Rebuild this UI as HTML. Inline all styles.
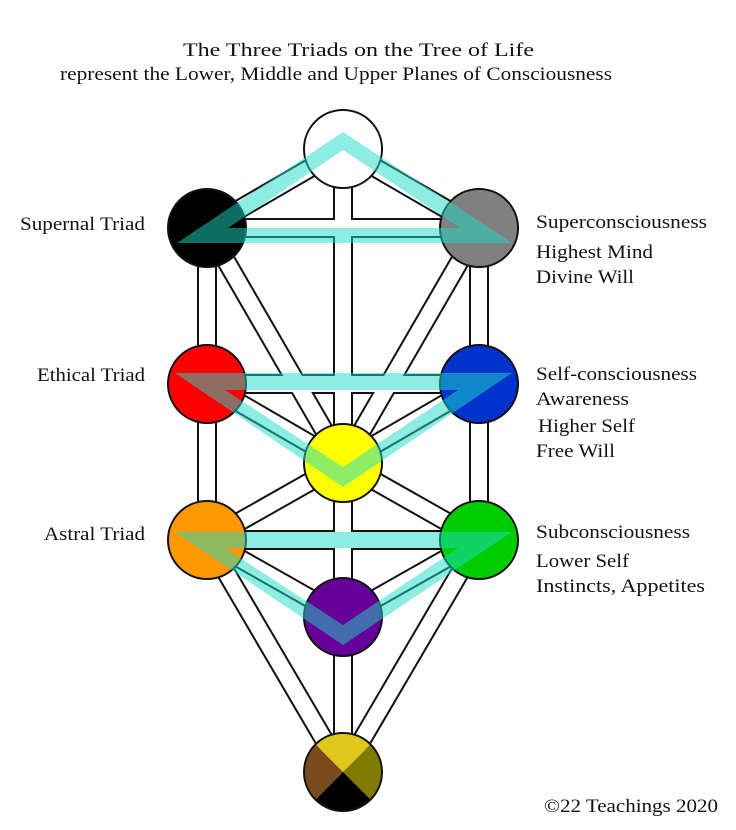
<!DOCTYPE html>
<html><head><meta charset="utf-8"><style>
html,body{margin:0;padding:0;background:#fff;}
svg{display:block;}
text{font-family:"Liberation Serif",serif;fill:#111;}
</style></head><body>
<svg width="736" height="830" viewBox="0 0 736 830" xmlns="http://www.w3.org/2000/svg">
<text x="183" y="56" font-size="19" textLength="351" lengthAdjust="spacingAndGlyphs">The Three Triads on the Tree of Life</text>
<text x="60" y="80" font-size="19" textLength="552" lengthAdjust="spacingAndGlyphs">represent the Lower, Middle and Upper Planes of Consciousness</text>

<g stroke-linecap="butt">
<g stroke="#111" stroke-width="20">
<line x1="343" y1="149" x2="479" y2="228"/><line x1="343" y1="149" x2="207" y2="228"/>
<line x1="343" y1="149" x2="343" y2="772"/><line x1="207" y1="228" x2="479" y2="228"/>
<line x1="479" y1="228" x2="479" y2="540"/><line x1="207" y1="228" x2="207" y2="540"/>
<line x1="479" y1="228" x2="343" y2="463"/><line x1="207" y1="228" x2="343" y2="463"/>
<line x1="207" y1="384" x2="479" y2="384"/><line x1="207" y1="384" x2="343" y2="463"/>
<line x1="479" y1="384" x2="343" y2="463"/><line x1="207" y1="540" x2="343" y2="463"/>
<line x1="479" y1="540" x2="343" y2="463"/><line x1="207" y1="540" x2="479" y2="540"/>
<line x1="207" y1="540" x2="343" y2="617"/><line x1="479" y1="540" x2="343" y2="617"/>
<line x1="207" y1="540" x2="343" y2="772"/><line x1="479" y1="540" x2="343" y2="772"/>
</g>
<g stroke="#fff" stroke-width="16">
<line x1="343" y1="149" x2="479" y2="228"/><line x1="343" y1="149" x2="207" y2="228"/>
<line x1="343" y1="149" x2="343" y2="772"/><line x1="207" y1="228" x2="479" y2="228"/>
<line x1="479" y1="228" x2="479" y2="540"/><line x1="207" y1="228" x2="207" y2="540"/>
<line x1="479" y1="228" x2="343" y2="463"/><line x1="207" y1="228" x2="343" y2="463"/>
<line x1="207" y1="384" x2="479" y2="384"/><line x1="207" y1="384" x2="343" y2="463"/>
<line x1="479" y1="384" x2="343" y2="463"/><line x1="207" y1="540" x2="343" y2="463"/>
<line x1="479" y1="540" x2="343" y2="463"/><line x1="207" y1="540" x2="479" y2="540"/>
<line x1="207" y1="540" x2="343" y2="617"/><line x1="479" y1="540" x2="343" y2="617"/>
<line x1="207" y1="540" x2="343" y2="772"/><line x1="479" y1="540" x2="343" y2="772"/>
</g>
</g>

<g stroke="#111" stroke-width="2">
<circle cx="343" cy="149" r="39" fill="#fff"/>
<circle cx="207" cy="228" r="39" fill="#000"/>
<circle cx="479" cy="228" r="39" fill="#808080"/>
<circle cx="207" cy="384" r="39" fill="#ff0000"/>
<circle cx="479" cy="384" r="39" fill="#0033cc"/>
<circle cx="343" cy="463" r="39" fill="#ffff00"/>
<circle cx="207" cy="540" r="39" fill="#ff9900"/>
<circle cx="479" cy="540" r="39" fill="#00cc00"/>
<circle cx="343" cy="617" r="39" fill="#660099"/>
</g>
<g>
<clipPath id="mc"><circle cx="343" cy="772" r="39"/></clipPath>
<g clip-path="url(#mc)">
<polygon points="343,772 300,729 386,729" fill="#e0c81a"/>
<polygon points="343,772 386,729 386,815" fill="#807a00"/>
<polygon points="343,772 386,815 300,815" fill="#000"/>
<polygon points="343,772 300,815 300,729" fill="#7a4a1e"/>
</g>
<circle cx="343" cy="772" r="39" fill="none" stroke="#111" stroke-width="2"/>
</g>

<g fill="rgba(30,220,200,0.5)" fill-rule="evenodd">
<path d="M177,243 L343,132 L512,243 Z M228,228 L343,150 L460,228 Z"/>
<path d="M175,373 L512,373 L343,487 Z M225,390 L458,390 L343,467 Z"/>
<path d="M175,532 L512,532 L343,645 Z M225,548 L458,548 L343,625 Z"/>
</g>

<g font-size="19" lengthAdjust="spacingAndGlyphs">
<text x="20" y="230" textLength="125" lengthAdjust="spacingAndGlyphs">Supernal Triad</text>
<text x="37" y="381" textLength="108" lengthAdjust="spacingAndGlyphs">Ethical Triad</text>
<text x="44" y="540" textLength="101" lengthAdjust="spacingAndGlyphs">Astral Triad</text>
<text x="536" y="228" textLength="171" lengthAdjust="spacingAndGlyphs">Superconsciousness</text>
<text x="536" y="258" textLength="117" lengthAdjust="spacingAndGlyphs">Highest Mind</text>
<text x="536" y="283" textLength="98" lengthAdjust="spacingAndGlyphs">Divine Will</text>
<text x="536" y="380" textLength="161" lengthAdjust="spacingAndGlyphs">Self-consciousness</text>
<text x="536" y="405" textLength="93" lengthAdjust="spacingAndGlyphs">Awareness</text>
<text x="538" y="432" textLength="97" lengthAdjust="spacingAndGlyphs">Higher Self</text>
<text x="536" y="457" textLength="79" lengthAdjust="spacingAndGlyphs">Free Will</text>
<text x="536" y="538" textLength="154" lengthAdjust="spacingAndGlyphs">Subconsciousness</text>
<text x="536" y="567" textLength="93" lengthAdjust="spacingAndGlyphs">Lower Self</text>
<text x="536" y="592" textLength="169" lengthAdjust="spacingAndGlyphs">Instincts, Appetites</text>
<text x="544" y="812" textLength="174" lengthAdjust="spacingAndGlyphs">©22 Teachings 2020</text>
</g>
</svg>
</body></html>
